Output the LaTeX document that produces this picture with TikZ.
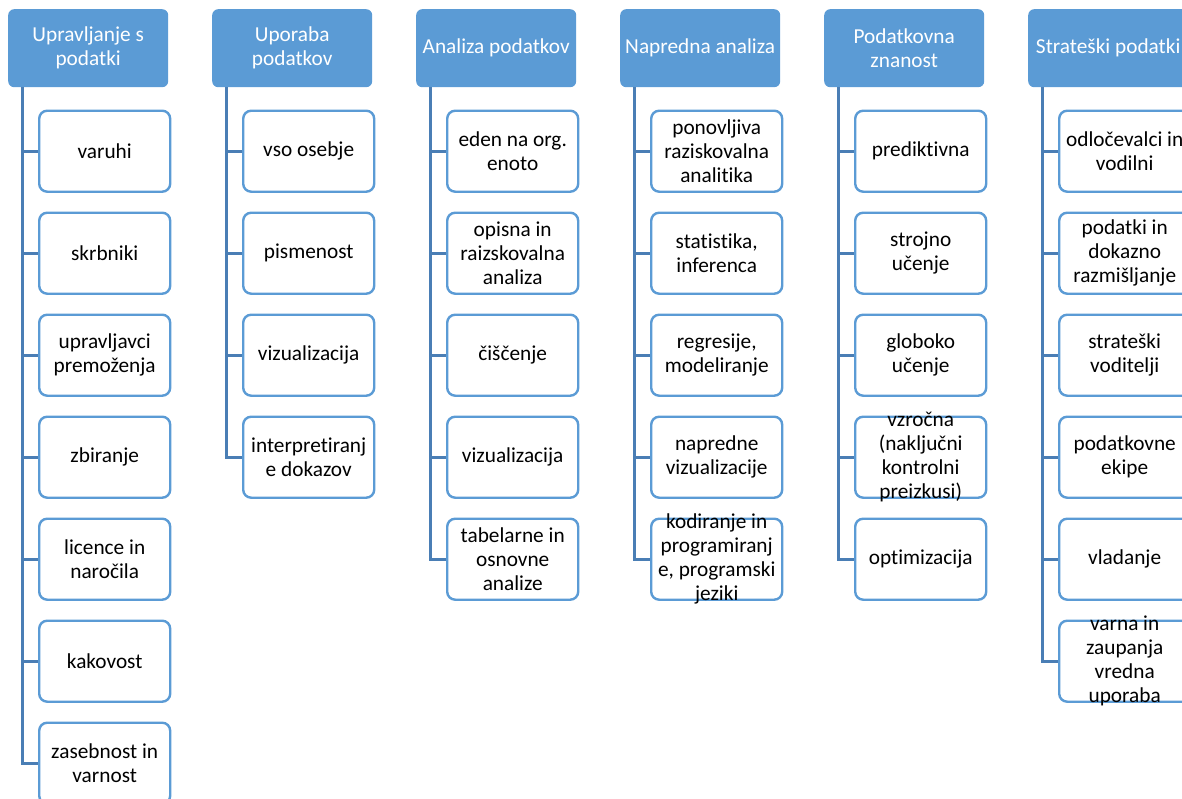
\documentclass[tikz,border=0pt]{standalone}
\usepackage{fontspec}
\setmainfont[Ligatures={NoCommon}]{Carlito}
\definecolor{hdrfill}{HTML}{5B9BD5}
\definecolor{boxline}{HTML}{5B9BD5}
\definecolor{connline}{HTML}{4A7EB5}
\tikzset{
  hdr/.style={rectangle, rounded corners=6pt, fill=hdrfill, minimum width=160pt,
    minimum height=78pt, anchor=north west, inner sep=0pt},
  hdrtext/.style={text=white, align=center, inner sep=0pt,
    font=\fontsize{21.3}{24}\selectfont},
  leaf/.style={rectangle, rounded corners=8pt, draw=boxline, line width=2.4pt,
    fill=white, minimum width=131pt, minimum height=81pt, anchor=north west, inner sep=0pt},
  leaftext/.style={text=black, align=center, inner sep=0pt,
    font=\fontsize{21.3}{24}\selectfont},
  conn/.style={draw=connline, line width=3pt}
}
\begin{document}
\begin{tikzpicture}[x=1pt,y=-1pt]
\useasboundingbox (0,0) rectangle (1182,798);
\clip (0,0) rectangle (1182,798);

% ---------- column 1 ----------
\node[hdr] (h0) at (8,9) {};
\node[hdrtext] (h0t) at (h0) {Upravljanje s\\podatki};
\node[leaf] (c0a) at (38,109.5) {};
\node[leaf] (c0b) at (38,211.5) {};
\node[leaf] (c0c) at (38,313.5) {};
\node[leaf] (c0d) at (38,415.5) {};
\node[leaf] (c0e) at (38,517.5) {};
\node[leaf] (c0f) at (38,619.5) {};
\node[leaf] (c0g) at (38,721.5) {};
\node[leaftext] (t0a) at (c0a) {varuhi};
\node[leaftext] (t0b) at (c0b) {skrbniki};
\node[leaftext] (t0c) at (c0c) {upravljavci\\premoženja};
\node[leaftext] (t0d) at (c0d) {zbiranje};
\node[leaftext] (t0e) at (c0e) {licence in\\naročila};
\node[leaftext] (t0f) at (c0f) {kakovost};
\node[leaftext] (t0g) at (c0g) {zasebnost in\\varnost};
\coordinate (s0) at ([xshift=14pt]h0.south west);
\draw[conn] (s0) |- (c0g.west);
\foreach \c in {c0a,c0b,c0c,c0d,c0e,c0f}
  \draw[conn] (s0 |- \c.west) -- (\c.west);

% ---------- column 2 ----------
\node[hdr] (h1) at (212,9) {};
\node[hdrtext] (h1t) at (h1) {Uporaba\\podatkov};
\node[leaf] (c1a) at (242,109.5) {};
\node[leaf] (c1b) at (242,211.5) {};
\node[leaf] (c1c) at (242,313.5) {};
\node[leaf] (c1d) at (242,415.5) {};
\node[leaftext] (t1a) at (c1a) {vso osebje};
\node[leaftext] (t1b) at (c1b) {pismenost};
\node[leaftext] (t1c) at (c1c) {vizualizacija};
\node[leaftext] (t1d) at (c1d) {interpretiranj\\e dokazov};
\coordinate (s1) at ([xshift=14pt]h1.south west);
\draw[conn] (s1) |- (c1d.west);
\foreach \c in {c1a,c1b,c1c}
  \draw[conn] (s1 |- \c.west) -- (\c.west);

% ---------- column 3 ----------
\node[hdr] (h2) at (416,9) {};
\node[hdrtext] (h2t) at (h2) {Analiza podatkov};
\node[leaf] (c2a) at (446,109.5) {};
\node[leaf] (c2b) at (446,211.5) {};
\node[leaf] (c2c) at (446,313.5) {};
\node[leaf] (c2d) at (446,415.5) {};
\node[leaf] (c2e) at (446,517.5) {};
\node[leaftext] (t2a) at (c2a) {eden na org.\\enoto};
\node[leaftext] (t2b) at (c2b) {opisna in\\raizskovalna\\analiza};
\node[leaftext] (t2c) at (c2c) {čiščenje};
\node[leaftext] (t2d) at (c2d) {vizualizacija};
\node[leaftext] (t2e) at (c2e) {tabelarne in\\osnovne\\analize};
\coordinate (s2) at ([xshift=14pt]h2.south west);
\draw[conn] (s2) |- (c2e.west);
\foreach \c in {c2a,c2b,c2c,c2d}
  \draw[conn] (s2 |- \c.west) -- (\c.west);

% ---------- column 4 ----------
\node[hdr] (h3) at (620,9) {};
\node[hdrtext] (h3t) at (h3) {Napredna analiza};
\node[leaf] (c3a) at (650,109.5) {};
\node[leaf] (c3b) at (650,211.5) {};
\node[leaf] (c3c) at (650,313.5) {};
\node[leaf] (c3d) at (650,415.5) {};
\node[leaf] (c3e) at (650,517.5) {};
\node[leaftext] (t3a) at (c3a) {ponovljiva\\raziskovalna\\analitika};
\node[leaftext] (t3b) at (c3b) {statistika,\\inferenca};
\node[leaftext] (t3c) at (c3c) {regresije,\\modeliranje};
\node[leaftext] (t3d) at (c3d) {napredne\\vizualizacije};
\node[leaftext] (t3e) at (c3e) {kodiranje in\\programiranj\\e, programski\\jeziki};
\coordinate (s3) at ([xshift=14pt]h3.south west);
\draw[conn] (s3) |- (c3e.west);
\foreach \c in {c3a,c3b,c3c,c3d}
  \draw[conn] (s3 |- \c.west) -- (\c.west);

% ---------- column 5 ----------
\node[hdr] (h4) at (824,9) {};
\node[hdrtext] (h4t) at (h4) {Podatkovna\\znanost};
\node[leaf] (c4a) at (854,109.5) {};
\node[leaf] (c4b) at (854,211.5) {};
\node[leaf] (c4c) at (854,313.5) {};
\node[leaf] (c4d) at (854,415.5) {};
\node[leaf] (c4e) at (854,517.5) {};
\node[leaftext] (t4a) at (c4a) {prediktivna};
\node[leaftext] (t4b) at (c4b) {strojno\\učenje};
\node[leaftext] (t4c) at (c4c) {globoko\\učenje};
\node[leaftext] (t4d) at (c4d) {vzročna\\(naključni\\kontrolni\\preizkusi)};
\node[leaftext] (t4e) at (c4e) {optimizacija};
\coordinate (s4) at ([xshift=14pt]h4.south west);
\draw[conn] (s4) |- (c4e.west);
\foreach \c in {c4a,c4b,c4c,c4d}
  \draw[conn] (s4 |- \c.west) -- (\c.west);

% ---------- column 6 ----------
\node[hdr] (h5) at (1028,9) {};
\node[hdrtext] (h5t) at (h5) {Strateški podatki};
\node[leaf] (c5a) at (1058,109.5) {};
\node[leaf] (c5b) at (1058,211.5) {};
\node[leaf] (c5c) at (1058,313.5) {};
\node[leaf] (c5d) at (1058,415.5) {};
\node[leaf] (c5e) at (1058,517.5) {};
\node[leaf] (c5f) at (1058,619.5) {};
\node[leaftext] (t5a) at (c5a) {odločevalci in\\vodilni};
\node[leaftext] (t5b) at (c5b) {podatki in\\dokazno\\razmišljanje};
\node[leaftext] (t5c) at (c5c) {strateški\\voditelji};
\node[leaftext] (t5d) at (c5d) {podatkovne\\ekipe};
\node[leaftext] (t5e) at (c5e) {vladanje};
\node[leaftext] (t5f) at (c5f) {varna in\\zaupanja\\vredna\\uporaba};
\coordinate (s5) at ([xshift=14pt]h5.south west);
\draw[conn] (s5) |- (c5f.west);
\foreach \c in {c5a,c5b,c5c,c5d,c5e}
  \draw[conn] (s5 |- \c.west) -- (\c.west);
\end{tikzpicture}
\end{document}
